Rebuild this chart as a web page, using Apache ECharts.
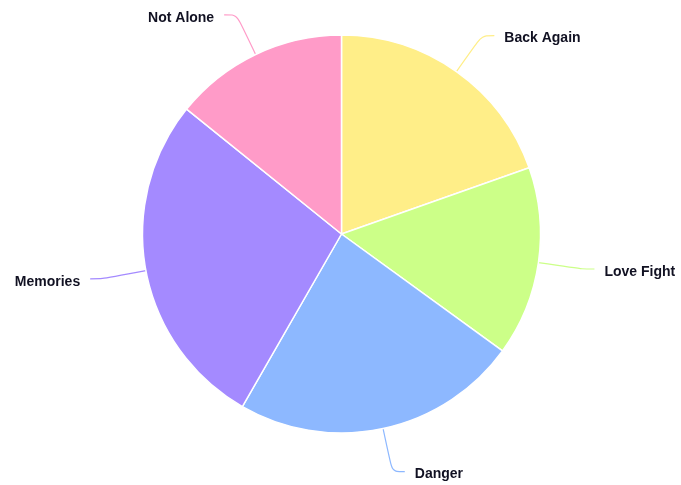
<!DOCTYPE html>
<html><head><meta charset="utf-8">
<script src="https://cdn.jsdelivr.net/npm/echarts@6/dist/echarts.min.js"></script>
<style>html,body{margin:0;padding:0;background:#fff}#c{width:681px;height:485px}</style>
</head><body><div id="c"></div>
<script>
var categories = ["Back Again", "Love Fight", "Danger", "Memories", "Not Alone"];
var values = [196, 154, 233, 275, 142];
var colors = ["#FFEE88", "#CCFF88", "#8DB8FF", "#A48AFF", "#FF9BC8"];

var chart = echarts.init(document.getElementById('c'));
chart.setOption({
  animation: false,
  series: [{
    type: 'pie',
    center: [341.5, 234],
    radius: [0, 199],
    startAngle: 90,
    clockwise: true,
    data: categories.map(function (c, i) {
      return { name: c, value: values[i], itemStyle: { color: colors[i] } };
    }),
    itemStyle: { borderColor: '#fff', borderWidth: 1.5 },
    label: {
      show: true,
      formatter: '{b}',
      color: '#111122',
      fontFamily: 'Arial, Liberation Sans, sans-serif',
      fontWeight: 'bold',
      fontSize: 14,
      overflow: 'none',
      offset: [0, 3],
      distanceToLabelLine: 10
    },
    labelLine: { show: true, length: 44, length2: 12.5, smooth: true, lineStyle: { width: 1.2 } }
  }]
});
</script></body></html>
